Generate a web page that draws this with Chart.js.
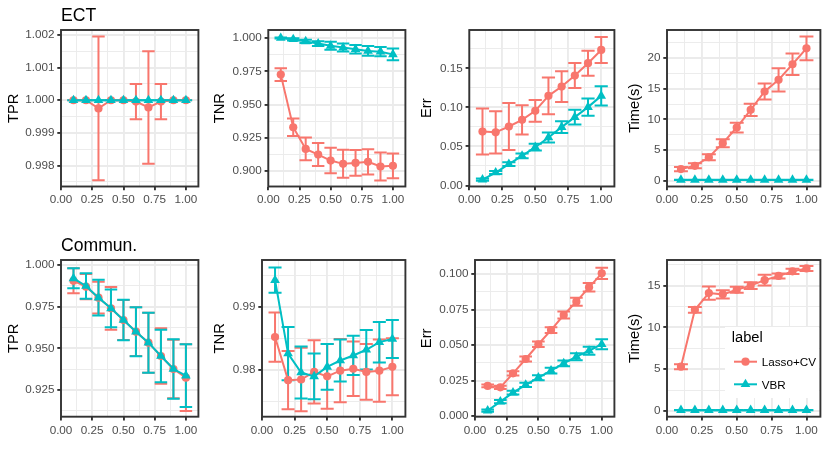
<!DOCTYPE html>
<html>
<head>
<meta charset="utf-8">
<script src="https://cdn.jsdelivr.net/npm/chart.js@4.4.0/dist/chart.umd.min.js"></script>
<style>
  html, body { margin: 0; padding: 0; background: #fff; }
  #wrap { position: relative; width: 830px; height: 461px; overflow: hidden; background: #fff; }
  #wrap canvas { position: absolute; }
</style>
</head>
<body>
<div id="wrap"></div>
<script>
// ---- data ----
var xs = [0.1, 0.2, 0.3, 0.4, 0.5, 0.6, 0.7, 0.8, 0.9, 1.0];
var seriesNames = ['Lasso+CV', 'VBR'];
var rowTitles = ['ECT', 'Commun.'];
var metricNames = ['TPR', 'TNR', 'Err', 'Time(s)'];
var legendTitle = 'label';

// ECT
var ectTprLasso   = [1.0, 1.0, 0.99975, 1.0, 1.0, 0.99996, 0.99978, 0.99996, 1.0, 1.0];
var ectTprLassoSd = [0, 0, 0.0022, 0, 0, 0.00054, 0.00172, 0.00054, 0, 0];
var ectTprVbr     = [1.0, 1.0, 1.0, 1.0, 1.0, 1.0, 1.0, 1.0, 1.0, 1.0];
var ectTprVbrSd   = [0, 0, 0, 0, 0, 0, 0, 0, 0, 0];

var ectTnrLasso   = [0.9725, 0.933, 0.9167, 0.9125, 0.908, 0.9055, 0.9062, 0.907, 0.9035, 0.904];
var ectTnrLassoSd = [0.0048, 0.0065, 0.0085, 0.0087, 0.0095, 0.0105, 0.0097, 0.0094, 0.0105, 0.0093];
var ectTnrVbr     = [1.0, 0.999, 0.9974, 0.9958, 0.9941, 0.9928, 0.9915, 0.9903, 0.9897, 0.9877];
var ectTnrVbrSd   = [0.0004, 0.0008, 0.0012, 0.0018, 0.003, 0.003, 0.0032, 0.0037, 0.0035, 0.0045];

var ectErrLasso   = [0.069, 0.068, 0.0755, 0.084, 0.0955, 0.1147, 0.1266, 0.1407, 0.1565, 0.1735];
var ectErrLassoSd = [0.0294, 0.027, 0.03, 0.0186, 0.0138, 0.0236, 0.0196, 0.016, 0.016, 0.0166];
var ectErrVbr     = [0.0075, 0.0166, 0.0273, 0.038, 0.049, 0.0614, 0.0747, 0.0875, 0.1003, 0.1147];
var ectErrVbrSd   = [0.0015, 0.002, 0.0025, 0.003, 0.0043, 0.0064, 0.0075, 0.0095, 0.011, 0.0122];

var ectTimeLasso   = [1.86, 2.4, 3.8, 6.1, 8.66, 11.55, 14.55, 16.45, 19.0, 21.6];
var ectTimeLassoSd = [0.35, 0.4, 0.5, 0.65, 0.8, 1.0, 1.3, 1.9, 1.75, 1.95];
var ectTimeVbr     = [0.1, 0.1, 0.1, 0.1, 0.1, 0.1, 0.1, 0.1, 0.1, 0.1];
var ectTimeVbrSd   = [0.02, 0.02, 0.02, 0.02, 0.02, 0.02, 0.02, 0.02, 0.02, 0.02];

// Commun.
var comTprLasso   = [0.9905, 0.987, 0.9804, 0.974, 0.967, 0.96, 0.9534, 0.9454, 0.9376, 0.9324];
var comTprLassoSd = [0.0075, 0.0076, 0.0095, 0.0128, 0.012, 0.0146, 0.018, 0.0167, 0.0175, 0.02];
var comTprVbr     = [0.992, 0.9874, 0.9804, 0.974, 0.967, 0.96, 0.9534, 0.9454, 0.9376, 0.9336];
var comTprVbrSd   = [0.006, 0.0076, 0.0107, 0.0113, 0.0122, 0.0147, 0.018, 0.0158, 0.0178, 0.0188];

var comTnrLasso   = [0.9852, 0.9784, 0.9785, 0.9797, 0.979, 0.9799, 0.9802, 0.9797, 0.9799, 0.9805];
var comTnrLassoSd = [0.0039, 0.0046, 0.005, 0.005, 0.0051, 0.005, 0.0043, 0.0044, 0.0049, 0.0045];
var comTnrVbr     = [0.9942, 0.9826, 0.9796, 0.979, 0.9805, 0.9815, 0.9823, 0.9832, 0.9844, 0.9849];
var comTnrVbrSd   = [0.002, 0.0042, 0.0041, 0.0036, 0.0036, 0.0033, 0.0031, 0.0031, 0.0032, 0.003];

var comErrLasso   = [0.0212, 0.0202, 0.0301, 0.0402, 0.0506, 0.0606, 0.0712, 0.0806, 0.0907, 0.1006];
var comErrLassoSd = [0.001, 0.0012, 0.0015, 0.0018, 0.002, 0.002, 0.0025, 0.0028, 0.003, 0.004];
var comErrVbr     = [0.0038, 0.0101, 0.0165, 0.0219, 0.027, 0.032, 0.0371, 0.0418, 0.046, 0.0506];
var comErrVbrSd   = [0.0008, 0.0012, 0.0013, 0.0015, 0.0018, 0.002, 0.002, 0.0025, 0.0028, 0.0035];

var comTimeLasso   = [5.3, 12.1, 14.1, 13.95, 14.5, 15.0, 15.65, 16.15, 16.7, 17.05];
var comTimeLassoSd = [0.3, 0.35, 0.8, 0.5, 0.35, 0.4, 0.65, 0.3, 0.3, 0.3];
var comTimeVbr     = [0.1, 0.1, 0.1, 0.1, 0.1, 0.1, 0.1, 0.1, 0.1, 0.1];
var comTimeVbrSd   = [0.02, 0.02, 0.02, 0.02, 0.02, 0.02, 0.02, 0.02, 0.02, 0.02];

// ---- panel layout (pixel box of each plotting area, axis limits) ----
var panels = [
  {row: 0, col: 0, mean: [ectTprLasso, ectTprVbr], sd: [ectTprLassoSd, ectTprVbrSd], ymin: 0.99736, ymax: 1.00215, step: 0.001, dec: 3, box: {l: 61, t: 30, r: 200, b: 186.5}, titleX: 13.5},
  {row: 0, col: 1, mean: [ectTnrLasso, ectTnrVbr], sd: [ectTnrLassoSd, ectTnrVbrSd], ymin: 0.8885, ymax: 1.006, step: 0.025, dec: 3, box: {l: 268.3, t: 30, r: 407, b: 186.5}, titleX: 220},
  {row: 0, col: 2, mean: [ectErrLasso, ectErrVbr], sd: [ectErrLassoSd, ectErrVbrSd], ymin: -0.0013, ymax: 0.199, step: 0.05, dec: 2, box: {l: 469.3, t: 30, r: 616, b: 186.5}, titleX: 427},
  {row: 0, col: 3, mean: [ectTimeLasso, ectTimeVbr], sd: [ectTimeLassoSd, ectTimeVbrSd], ymin: -0.98, ymax: 24.6, step: 5, dec: 0, box: {l: 667, t: 30, r: 821.5, b: 186.5}, titleX: 634.5},
  {row: 1, col: 0, mean: [comTprLasso, comTprVbr], sd: [comTprLassoSd, comTprVbrSd], ymin: 0.909, ymax: 1.003, step: 0.025, dec: 3, box: {l: 61, t: 260, r: 200, b: 416.7}, titleX: 13.5},
  {row: 1, col: 1, mean: [comTnrLasso, comTnrVbr], sd: [comTnrLassoSd, comTnrVbrSd], ymin: 0.97263, ymax: 0.99737, step: 0.01, dec: 2, box: {l: 262, t: 260, r: 407, b: 416.7}, titleX: 220},
  {row: 1, col: 2, mean: [comErrLasso, comErrVbr], sd: [comErrLassoSd, comErrVbrSd], ymin: -0.0005, ymax: 0.110, step: 0.025, dec: 3, box: {l: 475, t: 260, r: 616, b: 416.7}, titleX: 427},
  {row: 1, col: 3, mean: [comTimeLasso, comTimeVbr], sd: [comTimeLassoSd, comTimeVbrSd], ymin: -0.68, ymax: 18.06, step: 5, dec: 0, box: {l: 667, t: 260, r: 821.5, b: 416.7}, titleX: 634.5, legend: true}
];

var colors = ['#F8766D', '#00BFC4'];
var FONT = '"Liberation Sans", Arial, Helvetica, sans-serif';
Chart.defaults.font.family = FONT;

var CIRCLE_R = 4.1, TRI_R = 5.6, LINE_W = 2;

function halfTicks(min, max, step) {
  var h = step / 2, out = [];
  for (var k = Math.ceil(min / h - 1e-9); k * h <= max + 1e-12; k++) {
    out.push({value: +(k * h).toFixed(10), isMajor: Math.abs(k % 2) === 0});
  }
  return out;
}

function gridOpts() {
  return {
    color: '#EBEBEB',
    lineWidth: function (c) { return c.tick && c.tick.isMajor ? 1.9 : 0.95; },
    tickColor: function (c) { return c.tick && c.tick.isMajor ? '#333333' : 'rgba(0,0,0,0)'; },
    tickWidth: 1.9,
    tickLength: 3.7,
    drawTicks: true
  };
}

// error bars, drawn under the lines and points
var errorBarPlugin = {
  id: 'errbars',
  beforeDatasetsDraw: function (chart) {
    var ctx = chart.ctx, xS = chart.scales.x, yS = chart.scales.y, a = chart.chartArea;
    ctx.save();
    ctx.beginPath();
    ctx.rect(a.left, a.top, a.right - a.left, a.bottom - a.top);
    ctx.clip();
    chart.data.datasets.forEach(function (ds) {
      ctx.strokeStyle = ds.borderColor;
      ctx.lineWidth = LINE_W;
      ds.data.forEach(function (pt, i) {
        var e = ds.errors[i];
        var x = xS.getPixelForValue(pt.x);
        var x0 = xS.getPixelForValue(pt.x - 0.05), x1 = xS.getPixelForValue(pt.x + 0.05);
        var yLo = yS.getPixelForValue(pt.y - e), yHi = yS.getPixelForValue(pt.y + e);
        ctx.beginPath();
        ctx.moveTo(x, yLo); ctx.lineTo(x, yHi);
        ctx.moveTo(x0, yLo); ctx.lineTo(x1, yLo);
        ctx.moveTo(x0, yHi); ctx.lineTo(x1, yHi);
        ctx.stroke();
      });
    });
    ctx.restore();
  }
};

function drawKeyPoint(ctx, style, x, y) {
  ctx.beginPath();
  if (style === 'triangle') {
    ctx.moveTo(x, y - TRI_R);
    ctx.lineTo(x + TRI_R * Math.sin(2 * Math.PI / 3), y - TRI_R * Math.cos(2 * Math.PI / 3));
    ctx.lineTo(x + TRI_R * Math.sin(4 * Math.PI / 3), y - TRI_R * Math.cos(4 * Math.PI / 3));
    ctx.closePath();
  } else {
    ctx.arc(x, y, CIRCLE_R, 0, Math.PI * 2);
  }
  ctx.fill();
}

// panel frame, row titles and the inside legend
var framePlugin = {
  id: 'frame',
  afterDraw: function (chart) {
    var ctx = chart.ctx, a = chart.chartArea, p = chart.options.plugins.frame;
    var off = chart.canvas._off;
    ctx.save();
    if (p.legend) {
      ctx.fillStyle = '#ffffff';
      ctx.fillRect(725 - off.x, 327 - off.y, 94, 71);
      ctx.fillStyle = '#000000';
      ctx.textBaseline = 'alphabetic';
      ctx.textAlign = 'left';
      ctx.font = '14.7px ' + FONT;
      ctx.fillText(legendTitle, 731.7 - off.x, 342.3 - off.y);
      ctx.font = '11.7px ' + FONT;
      var keyY = [361.7, 384.3], textY = [366.3, 388.8];
      chart.data.datasets.forEach(function (ds, s) {
        var ky = keyY[s] - off.y;
        ctx.strokeStyle = ds.borderColor;
        ctx.lineWidth = LINE_W;
        ctx.beginPath();
        ctx.moveTo(734 - off.x, ky); ctx.lineTo(757 - off.x, ky);
        ctx.stroke();
        ctx.fillStyle = ds.borderColor;
        drawKeyPoint(ctx, ds.pointStyle, 745.5 - off.x, ky);
        ctx.fillStyle = '#000000';
        ctx.fillText(seriesNames[s], 761.7 - off.x, textY[s] - off.y);
      });
    }
    ctx.strokeStyle = '#333333';
    ctx.lineWidth = 1.9;
    ctx.strokeRect(a.left, a.top, a.right - a.left, a.bottom - a.top);
    if (p.title) {
      ctx.fillStyle = '#000000';
      ctx.font = '17.6px ' + FONT;
      ctx.textAlign = 'left';
      ctx.textBaseline = 'alphabetic';
      ctx.fillText(p.title, a.left, a.top - 9.5);
    }
    ctx.restore();
  }
};

var wrap = document.getElementById('wrap');

panels.forEach(function (p) {
  var cv = document.createElement('canvas');
  var left = Math.round(p.titleX - 8.8);
  var top = Math.floor(p.box.t) - 30;
  var right = Math.ceil(p.box.r) + 4;
  var bottom = Math.ceil(p.box.b) + 30;
  cv.width = right - left;
  cv.height = bottom - top;
  cv.style.left = left + 'px';
  cv.style.top = top + 'px';
  cv._off = {x: left, y: top};
  wrap.appendChild(cv);

  var yW = p.box.l - left;
  var xH = bottom - p.box.b;

  var datasets = [0, 1].map(function (s) {
    return {
      label: seriesNames[s],
      data: xs.map(function (x, i) { return {x: x, y: p.mean[s][i]}; }),
      errors: p.sd[s],
      borderColor: colors[s],
      backgroundColor: colors[s],
      pointBackgroundColor: colors[s],
      borderWidth: LINE_W,
      pointStyle: s ? 'triangle' : 'circle',
      pointRadius: s ? TRI_R : CIRCLE_R,
      pointBorderWidth: 0,
      pointHoverRadius: s ? TRI_R : CIRCLE_R,
      tension: 0,
      fill: false,
      order: 1 - s
    };
  });

  new Chart(cv, {
    type: 'line',
    data: {datasets: datasets},
    options: {
      responsive: false,
      animation: false,
      devicePixelRatio: 1,
      events: [],
      layout: {padding: {left: 0, top: p.box.t - top, right: right - p.box.r, bottom: 0}},
      plugins: {
        legend: {display: false},
        tooltip: {enabled: false},
        frame: {title: p.col === 0 ? rowTitles[p.row] : null, legend: !!p.legend}
      },
      scales: {
        x: {
          type: 'linear',
          min: 0,
          max: 1.1,
          afterBuildTicks: function (sc) { sc.ticks = halfTicks(0, 1.1, 0.25); },
          afterFit: function (sc) { sc.height = xH; },
          border: {display: false},
          grid: gridOpts(),
          ticks: {
            autoSkip: false,
            maxRotation: 0,
            minRotation: 0,
            padding: 2.9,
            color: '#4D4D4D',
            font: {size: 11.7},
            callback: function (v, i, t) { return t[i].isMajor ? Number(v).toFixed(2) : ''; }
          }
        },
        y: {
          type: 'linear',
          min: p.ymin,
          max: p.ymax,
          afterBuildTicks: function (sc) { sc.ticks = halfTicks(p.ymin, p.ymax, p.step); },
          afterFit: function (sc) { sc.width = yW; },
          border: {display: false},
          grid: gridOpts(),
          title: {
            display: true,
            text: metricNames[p.col],
            color: '#000000',
            font: {size: 14.7},
            padding: 0
          },
          ticks: {
            autoSkip: false,
            padding: 2.9,
            color: '#4D4D4D',
            font: {size: 11.7},
            callback: function (v, i, t) { return t[i].isMajor ? Number(v).toFixed(p.dec) : ''; }
          }
        }
      }
    },
    plugins: [errorBarPlugin, framePlugin]
  });
});
</script>
</body>
</html>
